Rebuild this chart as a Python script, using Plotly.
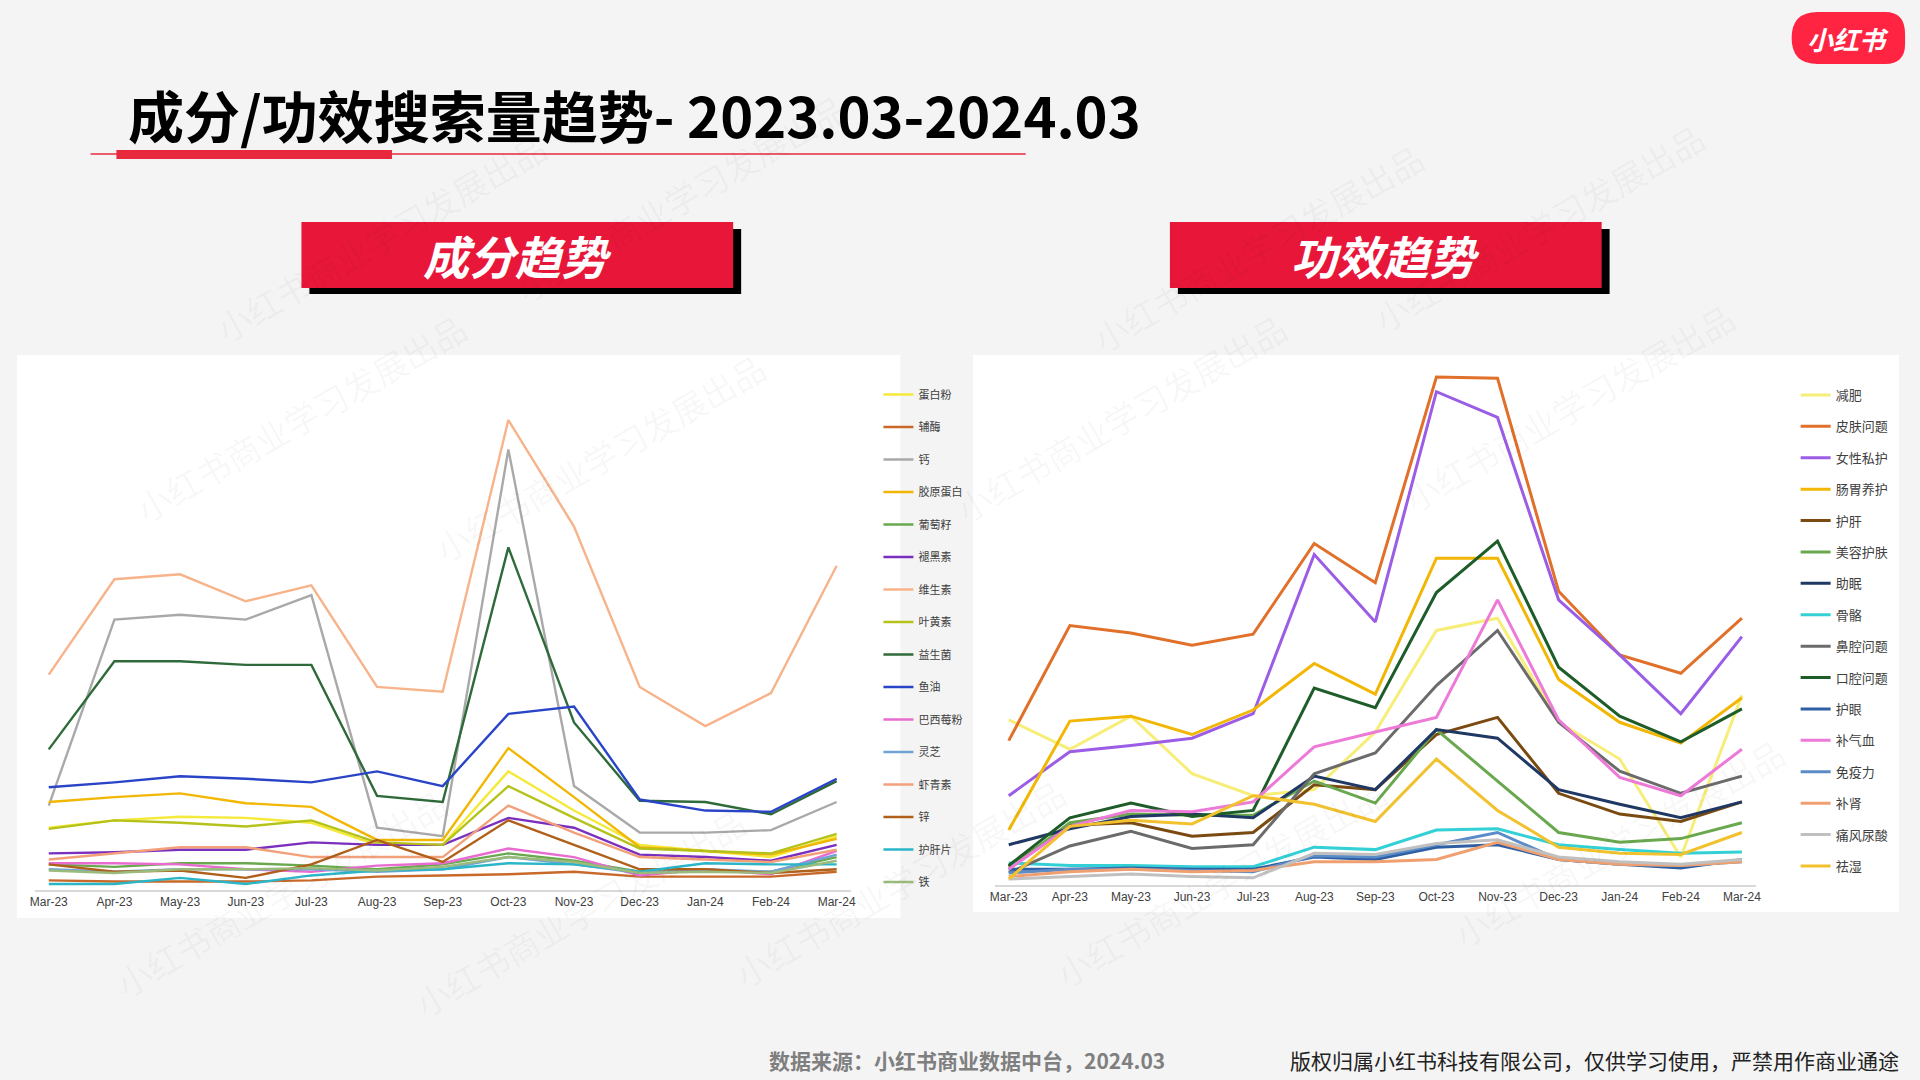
import plotly.graph_objects as go

months = ["Mar-23","Apr-23","May-23","Jun-23","Jul-23","Aug-23","Sep-23","Oct-23","Nov-23","Dec-23","Jan-24","Feb-24","Mar-24"]

# 成分趋势
ing_names = ["蛋白粉","辅酶","钙","胶原蛋白","葡萄籽","褪黑素","维生素","叶黄素","益生菌","鱼油","巴西莓粉","灵芝","虾青素","锌","护肝片","铁"]
ing_colors = ["#f5e93a","#c8692a","#a9a9a9","#f2b705","#6aa84f","#7b2fbe","#f7b38a","#b5c21a","#2f6b3a","#2a44c8","#e86bd0","#6fa3d6","#f2a07a","#b0601a","#2bb5c8","#9bbb7a"]
ing_蛋白粉 = [46,52,55,54,50,32,32,92,60,32,27,22,39]
ing_辅酶 = [3,2,2,2,3,6,7,8,10,6,6,6,10]
ing_钙 = [64,216,220,216,236,46,39,355,80,42,42,44,67]
ing_胶原蛋白 = [67,71,74,66,63,36,36,111,71,30,27,24,37]
ing_葡萄籽 = [16,14,17,17,15,12,16,25,19,10,10,10,22]
ing_褪黑素 = [25,26,28,28,34,32,32,54,46,24,22,19,32]
ing_维生素 = [171,249,253,231,244,161,157,379,292,161,129,156,260]
ing_叶黄素 = [45,52,50,47,52,34,32,80,54,29,27,25,41]
ing_益生菌 = [110,182,182,179,179,72,67,275,132,68,67,57,84]
ing_鱼油 = [79,83,88,86,83,92,80,139,145,69,60,59,86]
ing_巴西莓粉 = [17,17,16,12,10,15,17,29,22,7,12,8,27]
ing_灵芝 = [12,10,12,12,12,10,12,22,16,9,12,10,24]
ing_虾青素 = [20,25,30,30,22,22,22,64,42,22,20,18,28]
ing_锌 = [16,10,11,5,16,36,18,52,32,12,12,9,12]
ing_护肝片 = [0,0,5,0,7,11,12,17,16,10,17,16,16]
ing_铁 = [11,9,12,12,13,11,14,22,18,9,10,9,19]
ing_values = [ing_蛋白粉,ing_辅酶,ing_钙,ing_胶原蛋白,ing_葡萄籽,ing_褪黑素,ing_维生素,ing_叶黄素,
              ing_益生菌,ing_鱼油,ing_巴西莓粉,ing_灵芝,ing_虾青素,ing_锌,ing_护肝片,ing_铁]

# 功效趋势
eff_names = ["减肥","皮肤问题","女性私护","肠胃养护","护肝","美容护肤","助眠","骨骼","鼻腔问题","口腔问题","护眼","补气血","免疫力","补肾","痛风尿酸","祛湿"]
eff_colors = ["#f7ee7a","#e0702a","#9b5de5","#f2b705","#7a4a10","#6aa84f","#1f3864","#33d1d6","#6b6b6b","#1e5c2a","#2e5fa3","#ee7ad8","#5b8cc8","#f0a070","#c0c0c0","#f2c12e"]
eff_减肥 = [130,106,133,86,68,73,120,203,213,128,98,18,150]
eff_皮肤问题 = [113,207,201,191,200,274,242,410,409,235,183,168,213]
eff_女性私护 = [68,104,109,115,135,265,210,398,377,228,183,135,198]
eff_肠胃养护 = [40,129,133,118,138,176,151,262,262,163,128,111,148]
eff_护肝 = [10,44,46,35,38,77,73,118,132,70,53,47,63]
eff_美容护肤 = [8,46,53,52,52,80,62,122,80,38,30,33,46]
eff_助眠 = [28,41,51,53,50,84,73,122,115,73,61,50,63]
eff_骨骼 = [13,11,11,10,10,26,24,40,41,28,24,21,22]
eff_鼻腔问题 = [5,27,39,25,28,86,103,158,203,128,88,70,84]
eff_口腔问题 = [11,50,62,51,56,156,140,234,276,173,133,112,139]
eff_护眼 = [8,8,9,8,8,18,16,26,28,16,12,9,16]
eff_补气血 = [8,43,56,55,63,108,120,132,228,130,83,68,106]
eff_免疫力 = [5,8,8,7,6,19,18,28,38,16,12,11,14]
eff_补肾 = [2,6,8,6,7,14,14,16,30,16,12,11,14]
eff_痛风尿酸 = [0,2,4,2,1,21,20,29,32,18,14,12,16]
eff_祛湿 = [0,43,48,45,68,61,47,98,56,26,21,20,38]
eff_values = [eff_减肥,eff_皮肤问题,eff_女性私护,eff_肠胃养护,eff_护肝,eff_美容护肤,eff_助眠,eff_骨骼,
              eff_鼻腔问题,eff_口腔问题,eff_护眼,eff_补气血,eff_免疫力,eff_补肾,eff_痛风尿酸,eff_祛湿]

fig = go.Figure()
W, H = 1920, 1080

for n, c, v in zip(ing_names, ing_colors, ing_values):
    fig.add_trace(go.Scatter(x=list(range(13)), y=v, mode="lines", name=n, line=dict(color=c, width=2.4),
                             xaxis="x", yaxis="y", legend="legend", legendgroup="a" + n))
for n, c, v in zip(eff_names, eff_colors, eff_values):
    fig.add_trace(go.Scatter(x=list(range(13)), y=v, mode="lines", name=n, line=dict(color=c, width=3),
                             xaxis="x2", yaxis="y2", legend="legend2", legendgroup="b" + n))

def px(x, y):
    return "%f,%f" % (x / W, 1 - y / H)

shapes = []
shapes.append(dict(type="rect", xref="paper", yref="paper", x0=12/W, x1=900/W, y0=1-918/H, y1=1-355/H,
                   fillcolor="white", line=dict(width=0), layer="below"))
shapes.append(dict(type="rect", xref="paper", yref="paper", x0=973/W, x1=1904/W, y0=1-912/H, y1=1-355/H,
                   fillcolor="white", line=dict(width=0), layer="below"))
shapes.append(dict(type="line", xref="paper", yref="paper", x0=86/W, x1=1026/W, y0=1-154/H, y1=1-154/H,
                   line=dict(color="#e8283c", width=1.5)))
shapes.append(dict(type="rect", xref="paper", yref="paper", x0=112/W, x1=389/W, y0=1-159/H, y1=1-150/H,
                   fillcolor="#e8283c", line=dict(width=0)))
for x0, x1 in [(298, 732), (1171, 1605)]:
    shapes.append(dict(type="rect", xref="paper", yref="paper", x0=(x0+8)/W, x1=(x1+8)/W, y0=1-294/H, y1=1-229/H,
                       fillcolor="black", line=dict(width=0)))
    shapes.append(dict(type="rect", xref="paper", yref="paper", x0=x0/W, x1=x1/W, y0=1-288/H, y1=1-222/H,
                       fillcolor="#e8173a", line=dict(width=0)))
# logo: rounded blob
shapes.append(dict(type="path", xref="paper", yref="paper",
                   path="M " + px(1822, 12) + " L " + px(1890, 12) + " Q " + px(1910, 12) + " " + px(1910, 34) +
                        " L " + px(1910, 44) + " Q " + px(1910, 64) + " " + px(1890, 64) +
                        " L " + px(1822, 64) + " Q " + px(1796, 64) + " " + px(1796, 38) +
                        " Q " + px(1796, 12) + " " + px(1822, 12) + " Z",
                   fillcolor="#ff2442", line=dict(width=0)))

annotations = [
    dict(text="<b>成分/功效搜索量趋势- 2023.03-2024.03</b>", x=122/W, y=1-113/H, xref="paper", yref="paper",
         xanchor="left", yanchor="middle", showarrow=False, font=dict(size=56, color="black", family="Noto Sans CJK SC")),
    dict(text="<b><i>成分趋势</i></b>", x=515/W, y=1-255/H, xref="paper", yref="paper", showarrow=False,
         xanchor="center", yanchor="middle", font=dict(size=46, color="white", family="Noto Sans CJK SC")),
    dict(text="<b><i>功效趋势</i></b>", x=1388/W, y=1-255/H, xref="paper", yref="paper", showarrow=False,
         xanchor="center", yanchor="middle", font=dict(size=46, color="white", family="Noto Sans CJK SC")),
    dict(text="<b><i>小红书</i></b>", x=1853/W, y=1-38/H, xref="paper", yref="paper", showarrow=False,
         xanchor="center", yanchor="middle", font=dict(size=26, color="white", family="Noto Sans CJK SC")),
    dict(text="<b>数据来源：小红书商业数据中台，2024.03</b>", x=1168/W, y=1-1060/H, xref="paper", yref="paper",
         xanchor="right", yanchor="middle", showarrow=False, font=dict(size=21, color="#7f7f7f", family="Noto Sans CJK SC")),
    dict(text="版权归属小红书科技有限公司，仅供学习使用，严禁用作商业通途", x=1906/W, y=1-1060/H, xref="paper", yref="paper",
         xanchor="right", yanchor="middle", showarrow=False, font=dict(size=21, color="#222222", family="Noto Sans CJK SC")),
]
for wx, wy in [(200, 120), (680, 80), (1260, 130), (1720, 110), (120, 300), (420, 340), (1300, 300),
               (1750, 290), (400, 1030), (900, 1000), (1400, 1000), (1800, 960), (100, 1010)]:
    annotations.append(dict(text="小红书商业学习发展出品", x=wx/W, y=1-wy/H, xref="paper", yref="paper",
                            showarrow=False, textangle=-30, font=dict(size=34, color="rgba(0,0,0,0.04)",
                                                                      family="Noto Sans CJK SC")))

axis_common = dict(tickmode="array", tickvals=list(range(13)), ticktext=months, showgrid=False, zeroline=False,
                   showline=True, linecolor="#d9d9d9", linewidth=1.5, ticks="",
                   tickfont=dict(size=12, color="#404040", family="Liberation Sans"))
fig.update_layout(
    width=W, height=H, margin=dict(l=0, r=0, t=0, b=0),
    paper_bgcolor="#f4f4f4", plot_bgcolor="white",
    shapes=shapes, annotations=annotations,
    xaxis=dict(domain=[30/W, 850/W], range=[-0.212, 12.212], anchor="y", **axis_common),
    yaxis=dict(domain=[190/H, 680/H], range=[-4.9, 395.4], visible=False),
    xaxis2=dict(domain=[995/W, 1760/W], range=[-0.228, 12.228], anchor="y2", **axis_common),
    yaxis2=dict(domain=[195/H, 720/H], range=[-4.9, 423.9], visible=False),
    legend=dict(x=878/W, y=1-380/H, xanchor="left", yanchor="top", bgcolor="rgba(0,0,0,0)",
                font=dict(size=11, color="#404040", family="Noto Sans CJK SC"), tracegroupgap=13.5,
                itemwidth=30),
    legend2=dict(x=1800/W, y=1-380/H, xanchor="left", yanchor="top", bgcolor="rgba(0,0,0,0)",
                 font=dict(size=13, color="#404040", family="Noto Sans CJK SC"), tracegroupgap=11.5,
                 itemwidth=30),
    showlegend=True,
)
fig.write_html("out.html", config={"displayModeBar": False},
               post_script="document.body.style.margin='0';document.body.style.overflow='hidden';")
